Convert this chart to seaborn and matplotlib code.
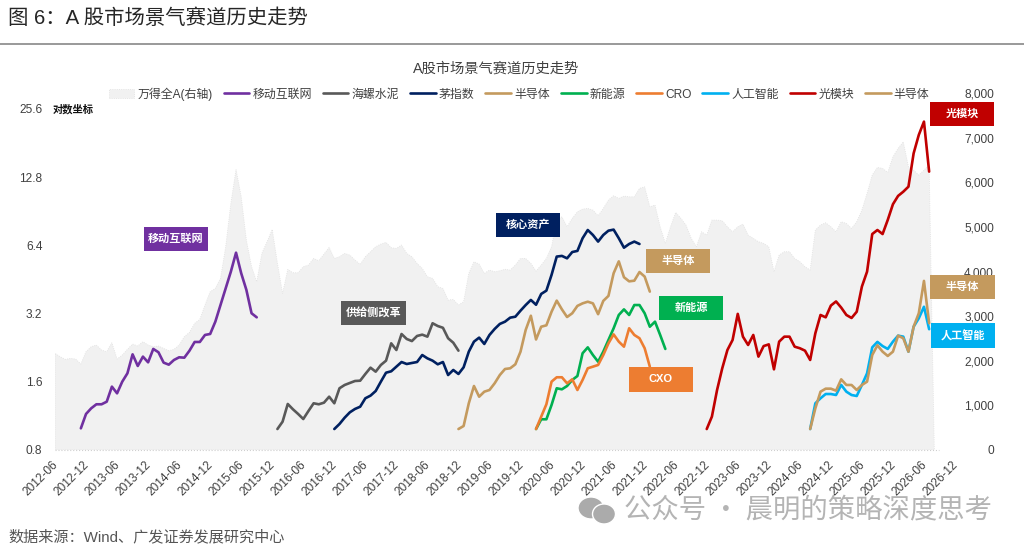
import numpy as np
import pandas as pd
import matplotlib
matplotlib.use("Agg")
import matplotlib.pyplot as plt
from matplotlib.patches import Rectangle, Ellipse, Patch
from matplotlib.lines import Line2D
from matplotlib.transforms import ScaledTranslation
import seaborn as sns

# ---- data ----
tick_labels = ["2012-06","2012-12","2013-06","2013-12","2014-06","2014-12","2015-06","2015-12",
               "2016-06","2016-12","2017-06","2017-12","2018-06","2018-12","2019-06","2019-12",
               "2020-06","2020-12","2021-06","2021-12","2022-06","2022-12","2023-06","2023-12",
               "2024-06","2024-12","2025-06","2025-12","2026-06","2026-12"]
left_ticks = [0.8, 1.6, 3.2, 6.4, 12.8, 25.6]
right_ticks = [0, 1000, 2000, 3000, 4000, 5000, 6000, 7000, 8000]

wind_a = [2165,2091,2031,2053,2038,1926,2203,2315,2352,2240,2203,2405,2038,2128,2255,2374,2330,2427,2352,2315,
          2330,2277,2225,2255,2352,2539,2636,2837,2927,3248,3547,3621,3845,4555,5525,6287,5675,4704,4107,3771,
          4405,4667,4943,4189,3509,4047,3972,3972,4107,4144,4293,4241,4390,4540,4293,4331,4405,4368,4256,4159,
          4331,4443,4555,4614,4652,4533,4517,4592,4405,4331,4181,4069,3883,3845,3659,3621,3360,3375,3248,3323,
          3957,4219,4166,3957,4032,3995,4017,4050,4032,4144,4293,4293,4181,4010,4144,4293,4555,5152,5226,5002,
          5190,5338,5398,5413,5376,5248,5413,5600,5697,5638,5690,5674,5674,5862,5898,5450,5488,5002,4630,5002,
          5324,5190,5040,4742,4555,4890,4816,5152,5152,5137,5002,4890,5002,5062,4816,4742,4667,4630,4555,3995,
          4368,4443,4443,4293,4219,4107,4032,4928,5040,5092,5002,4890,5115,5077,4965,5115,5376,5750,6160,6332,
          6310,6220,6570,6758,6906,6346,6272,6160,6272,6384,0]

mobile = [.997,1.154,1.222,1.273,1.273,1.307,1.523,1.423,1.602,1.744,2.115,1.879,2.066,1.95,2.234,2.16,1.944,1.904,
          1.997,2.052,2.044,2.195,2.398,2.398,2.575,2.601,2.948,3.493,4.137,4.9,5.94,4.82,4.07,3.21,3.08]
conch = [.99,1.067,1.277,1.21,1.154,1.096,1.189,1.286,1.273,1.294,1.375,1.286,1.498,1.549,1.581,1.613,1.618,1.732,
         1.847,1.773,1.898,1.983,2.365,2.21,2.6,2.472,2.42,2.549,2.583,2.531,2.9,2.82,2.77,2.49,2.38,2.195]
moutai = [.99,1.042,1.111,1.173,1.214,1.242,1.353,1.39,1.457,1.602,1.755,1.78,1.866,1.956,1.917,1.937,1.956,2.10,
          2.03,1.983,1.911,1.956,1.714,1.804,1.732,1.854,2.173,2.406,2.506,2.35,2.575,2.737,2.88,2.947,3.07,3.10,
          3.296,3.49,3.675,3.50,3.907,4.04,4.74,5.71,5.75,5.61,5.98,6.05,6.88,7.48,7.11,6.65,7.11,7.43,7.51,6.88,
          6.25,6.49,6.65,6.49]
semi1 = [.99,1.021,1.286,1.533,1.375,1.447,1.472,1.576,1.714,1.822,1.835,1.911,2.173,2.71,3.13,2.46,2.80,2.84,3.26,
         3.65,3.34,3.09,3.21,3.46,3.55,3.61,3.55,3.18,3.64,3.83,4.82,5.44,4.63,4.44,4.47,4.88,4.66,4.0]
newenergy = [.99,1.093,1.093,1.264,1.498,1.482,1.533,1.63,1.697,2.138,2.27,2.10,1.962,2.173,2.447,2.756,3.155,3.34,
             3.155,3.49,3.49,3.21,2.80,2.947,2.575,2.234]
cro = [.99,1.123,1.273,1.602,1.675,1.675,1.576,1.64,1.472,1.63,1.835,1.866,1.898,2.10,2.365,2.59,2.406,2.286,2.756,
       2.575,2.49,2.25,1.866]
optical = [.99,1.123,1.472,1.835,2.21,2.447,3.19,2.531,2.326,2.575,2.066,2.30,2.34,1.816,2.406,2.531,2.531,2.286,
           2.25,2.195,1.997,2.62,3.155,3.08,3.47,3.62,3.40,3.155,3.06,3.26,4.21,4.9,7.18,7.48,7.18,8.29,9.72,10.58,
           11.04,11.62,16.3,19.66,22.5,13.54]
ai = [.99,1.286,1.353,1.413,1.413,1.399,1.549,1.447,1.399,1.385,1.549,1.744,2.27,2.40,2.30,2.234,2.406,2.557,2.531,
      2.173,2.80,3.05,3.43,2.73]
semi2 = [.99,1.222,1.447,1.492,1.492,1.462,1.64,1.549,1.549,1.472,1.549,1.602,2.10,2.318,2.173,2.08,2.173,2.557,2.49,
         2.173,2.80,3.21,4.46,2.90]

PURPLE, GREY, NAVY, TAN, GREEN, ORANGE, BLUE, RED = "#7030A0","#595959","#002060","#C49A5E","#00B050","#ED7D31","#00B0F0","#C00000"
series = [("移动互联网", mobile, 5, PURPLE), ("海螺水泥", conch, 43, GREY), ("茅指数", moutai, 54, NAVY),
          ("半导体", semi1, 78, TAN), ("新能源", newenergy, 93, GREEN), ("CRO", cro, 93, ORANGE),
          ("人工智能", ai, 146, BLUE), ("光模块", optical, 126, RED), ("半导体", semi2, 146, TAN)]

# ---- style ----
sns.set_theme(style="white")
plt.rcParams["font.family"] = ["Liberation Sans", "Noto Sans CJK SC", "DejaVu Sans"]
CJK = ["Noto Sans CJK SC", "DejaVu Sans"]
TXT = "#404040"
AREA = "#F1F1F1"
W, H = 1024, 550
fig = plt.figure(figsize=(W/100, H/100), dpi=100)

L, R, T, B = 55, 955, 93, 450
ax2 = fig.add_axes([L/W, 1-B/H, (R-L)/W, (B-T)/H])
ax = fig.add_axes([L/W, 1-B/H, (R-L)/W, (B-T)/H], sharex=ax2)
ax.patch.set_visible(False)
ax.set_zorder(3); ax2.set_zorder(2)

# right axis area
months = np.arange(len(wind_a))
ax2.fill_between(months, wind_a, 0, facecolor=AREA, edgecolor="#E0E0E0", linewidth=0.6, linestyle=":")
ax2.plot([0, 171], [0, 0], color="#CFCFCF", lw=0.8, ls=":", clip_on=False)
ax2.set_ylim(0, 8000)
ax2.yaxis.tick_right()
ax2.set_yticks(right_ticks)
ax2.set_yticklabels([f"{v:,}" for v in right_ticks], ha="right", color=TXT, fontsize=8.6)
ax2.tick_params(axis="y", length=0, pad=28)

# left axis lines
for name, vals, start, col in series:
    sns.lineplot(x=start + np.arange(len(vals)), y=vals, ax=ax, color=col, linewidth=1.9, label=name, legend=False)
ax.set_yscale("log", base=2)
ax.set_ylim(0.8, 30.1)
ax.set_yticks(left_ticks)
ax.set_yticklabels([str(v) for v in left_ticks], color=TXT, fontsize=8.6)
ax.minorticks_off()
ax.tick_params(axis="y", length=0, pad=9)

ax.set_xlim(0, 174)
ax.set_xticks(np.arange(len(tick_labels))*6)
ax.set_xticklabels(tick_labels, rotation=45, ha="right", va="top", rotation_mode="anchor", color=TXT, fontsize=8.6)
ax.tick_params(axis="x", length=0, pad=6)
shift = ScaledTranslation(-3/100, 0, fig.dpi_scale_trans)
for lab in ax.get_xticklabels():
    lab.set_transform(lab.get_transform() + shift)
ax.set_xlabel(""); ax.set_ylabel("")
plt.setp(ax2.get_xticklabels(), visible=False)
ax2.tick_params(axis="x", length=0)
for a in (ax, ax2):
    for s in a.spines.values():
        s.set_visible(False)

# legend
handles = [Patch(facecolor=AREA, edgecolor="#E0E0E0", linewidth=0.6, linestyle=":")] + \
          [Line2D([], [], color=c, lw=1.9) for _, _, _, c in series]
labels = ["万得全A(右轴)"] + [s[0] for s in series]
fig.legend(handles, labels, ncol=10, frameon=False, loc="center", bbox_to_anchor=(519/W, 1-94/H),
           prop={"family": ["Liberation Sans"] + CJK, "size": 8.6}, labelcolor=TXT,
           handlelength=2.15, handletextpad=0.25, columnspacing=0.93, borderpad=0, borderaxespad=0)

# text
fig.text(496/W, 1-69/H, "A股市场景气赛道历史走势", ha="center", va="center", fontsize=10.3, color=TXT, family=["Liberation Sans"]+CJK)
fig.text(8/W, 1-18/H, "图 6：A 股市场景气赛道历史走势", ha="left", va="center", fontsize=14.7, color="#262626", family=["Liberation Sans"]+CJK)
fig.add_artist(Line2D([0, 1], [1-44/H]*2, color="#999999", lw=1.4, transform=fig.transFigure))
fig.text(53/W, 1-109/H, "对数坐标", ha="left", va="center", fontsize=7.4, color="#111111", family=CJK, weight="bold", style="italic")
fig.text(8/W, 1-537/H, "数据来源：Wind、广发证券发展研究中心", ha="left", va="center", fontsize=10.9, color="#555555", family=["Liberation Sans"]+CJK)

# coloured tags
tags = [("移动互联网", 144, 227, 208, 251, PURPLE), ("核心资产", 496, 213, 560, 237, NAVY), ("半导体", 646, 249, 710, 273, TAN),
        ("新能源", 659, 296, 723, 320, GREEN), ("CXO", 629, 367, 693, 392, ORANGE), ("光模块", 930, 102, 994, 126, RED),
        ("半导体", 930, 275, 995, 299, TAN), ("人工智能", 931, 323, 995, 348, BLUE), ("供给侧改革", 341, 301, 406, 325, GREY)]
for name, x0, y0, x1, y1, c in tags:
    fig.add_artist(Rectangle((x0/W, 1-y1/H), (x1-x0)/W, (y1-y0)/H, transform=fig.transFigure, facecolor=c, edgecolor="none", zorder=10))
    fig.text((x0+x1)/2/W, 1-(y0+y1)/2/H, name, ha="center", va="center", color="white", fontsize=8, weight="bold",
             family=["Liberation Sans"]+CJK, zorder=11)

# watermark
for cx, cy, w, h, z in [(591, 508, 26, 22, 10), (604, 514, 23, 20, 11)]:
    fig.add_artist(Ellipse((cx/W, 1-cy/H), w/W, h/H, transform=fig.transFigure, facecolor="#ABABAB",
                           edgecolor="white", linewidth=1, zorder=z))
fig.text(624/W, 1-510/H, "公众号 · 晨明的策略深度思考", ha="left", va="center", fontsize=19.7, color="#B4B4B4", family=CJK, zorder=11)

fig.savefig("out.png", dpi=100)
